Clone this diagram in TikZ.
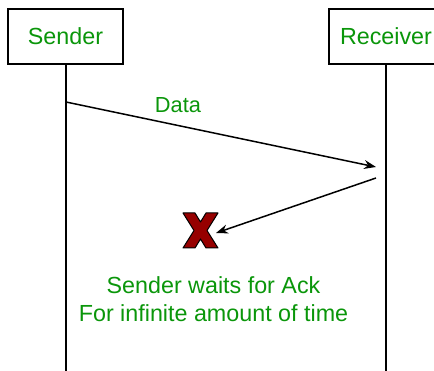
\documentclass[tikz,border=0pt]{standalone}
\usepackage{fontspec}
\setmainfont{Liberation Sans}
\usetikzlibrary{arrows.meta}
\definecolor{labelgreen}{RGB}{10,150,10}
\definecolor{crossred}{RGB}{150,0,0}
\tikzset{
  actor/.style={draw=black, line width=2pt, fill=white, minimum width=115pt,
    minimum height=55pt, inner sep=0pt, text=labelgreen, font=\fontsize{23.3}{27}\selectfont},
  lifeline/.style={line width=2pt},
  msg/.style={line width=1.5pt, -{Stealth[length=12pt,width=9pt,inset=4pt]}},
  note/.style={text=labelgreen, font=\fontsize{23.3}{28}\selectfont, align=center, inner sep=0pt}
}
\begin{document}
\begin{tikzpicture}[x=1pt,y=-1pt]
  \useasboundingbox (0,0) rectangle (434,371);
  \clip (0,0) rectangle (434,371);
  % lifelines
  \coordinate (sbot) at (66,375);
  \coordinate (rbot) at (386,375);
  \draw[lifeline] (66,60) -- (sbot);
  \draw[lifeline] (386,60) -- (rbot);
  % participants
  \node[actor] (sender) at (65.5,36.5) {Sender};
  \node[actor] (receiver) at (386,36.5) {Receiver};
  % data message
  \coordinate (dstart) at (66,102);
  \coordinate (dend) at (376,167);
  \draw[msg] (dstart) -- (dend);
  \node[text=labelgreen, font=\fontsize{21.8}{25}\selectfont] (data) at (178,105) {Data};
  % acknowledgement that gets lost
  \coordinate (astart) at (376,178);
  \coordinate (lost) at (216,233);
  \draw[msg] (astart) -- (lost);
  % cross marking the loss
  \draw[fill=crossred, draw=black, line width=1pt, line join=round]
    (183,213) -- (195,213) -- (200.5,222) -- (206,213) -- (218,213)
    -- (207,230.5) -- (218,248) -- (206,248) -- (200.5,239) -- (195,248)
    -- (183,248) -- (194,230.5) -- cycle;
  % note
  \node[note] (wait) at (213.5,299) {Sender waits for Ack\\For infinite amount of time};
\end{tikzpicture}
\end{document}
